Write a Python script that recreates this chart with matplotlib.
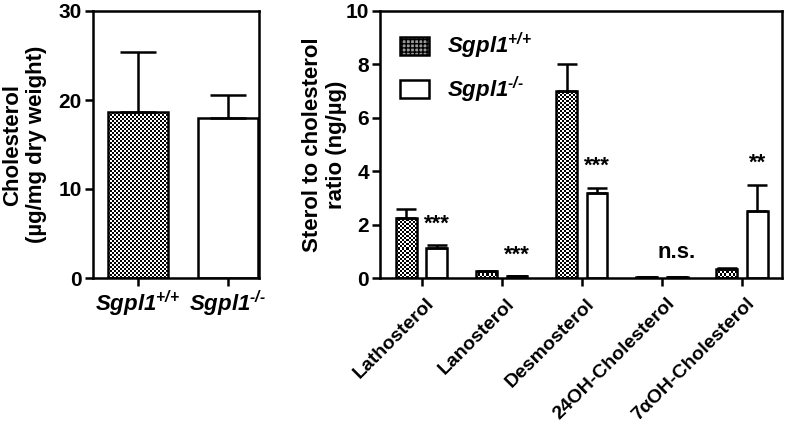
import numpy as np
import matplotlib
matplotlib.use("Agg")
import matplotlib.pyplot as plt
import matplotlib.transforms as mtransforms
from matplotlib.patches import Patch

plt.rcParams["font.family"] = ["Liberation Sans", "DejaVu Sans"]
plt.rcParams["font.weight"] = "bold"
plt.rcParams["mathtext.fontset"] = "custom"
plt.rcParams["mathtext.it"] = "Liberation Sans:bold:italic"
plt.rcParams["mathtext.rm"] = "Liberation Sans:bold:italic"
plt.rcParams["mathtext.bf"] = "Liberation Sans:bold:italic"
plt.rcParams["mathtext.default"] = "it"
plt.rcParams["hatch.linewidth"] = 1.0

# left panel data
chol_groups = ["$Sgpl1^{\\text{+/+}}$", "$Sgpl1^{\\text{-/-}}$"]
chol_mean = [18.6, 18.0]
chol_err = [6.8, 2.6]

# right panel data
sterols = ["Lathosterol", "Lanosterol", "Desmosterol", "24OH-Cholesterol", "7αOH-Cholesterol"]
wt_mean = [2.25, 0.25, 7.02, 0.04, 0.33]
wt_err = [0.33, 0.03, 0.98, 0.01, 0.05]
ko_mean = [1.12, 0.07, 3.20, 0.04, 2.52]
ko_err = [0.12, 0.02, 0.17, 0.01, 0.96]
sig = ["***", "***", "***", "n.s.", "**"]
sig_y = [2.0, 0.85, 4.2, 0.95, 4.3]


def checker_fill(ax, bars, cell=2):
    # fine black/white checkerboard inside each bar (GraphPad style fill)
    xl, yl = ax.get_xlim(), ax.get_ylim()
    for p in bars:
        x0, y0, w, h = p.get_x(), p.get_y(), p.get_width(), p.get_height()
        (px0, py0), (px1, py1) = ax.transData.transform([(x0, y0), (x0 + w, y0 + h)])
        nx = max(1, int(round((px1 - px0) / cell)))
        ny = max(1, int(round((py1 - py0) / cell)))
        arr = np.add.outer(np.arange(ny), np.arange(nx)) % 2
        im = ax.imshow(arr, cmap="gray", vmin=0, vmax=1, extent=[x0, x0 + w, y0, y0 + h],
                       interpolation="nearest", aspect="auto", zorder=0.5)
        im.set_clip_path(p)
    ax.set_xlim(xl)
    ax.set_ylim(yl)


fig = plt.figure(figsize=(7.87, 4.30), dpi=100)
ax1 = fig.add_axes([93 / 787, 1 - 278 / 430, (259 - 93) / 787, 267 / 430])
ax2 = fig.add_axes([380 / 787, 1 - 278 / 430, (782 - 380) / 787, 267 / 430])

lw = 1.8
for ax in (ax1, ax2):
    for s in ax.spines.values():
        s.set_linewidth(lw)
    ax.tick_params(width=lw, length=6, direction="out", labelsize=15, pad=2)

# left panel
x1 = np.arange(len(chol_mean))
ax1.set_xlim(-0.5, 1.35)
ax1.set_ylim(0, 30)
b_wt1 = ax1.bar(x1[0], chol_mean[0], 0.667, facecolor="none", edgecolor="black", linewidth=lw)
ax1.bar(x1[1], chol_mean[1], 0.667, color="white", edgecolor="black", linewidth=lw)
ax1.errorbar(x1, chol_mean, yerr=[np.zeros(2), chol_err], fmt="none", ecolor="black",
             elinewidth=lw, capsize=13, capthick=lw)
ax1.set_yticks([0, 10, 20, 30])
ax1.set_xticks(x1)
ax1.set_xticklabels(chol_groups, fontsize=16)
ax1.set_ylabel("Cholesterol\n(µg/mg dry weight)", fontsize=16, fontweight="bold", labelpad=8)
checker_fill(ax1, b_wt1)

# right panel
x2 = np.arange(len(sterols))
off = 0.19
w = 0.26
ax2.set_xlim(-0.52, 4.5)
ax2.set_ylim(0, 10)
b_wt2 = ax2.bar(x2 - off, wt_mean, w, facecolor="none", edgecolor="black", linewidth=lw)
ax2.bar(x2 + off, ko_mean, w, color="white", edgecolor="black", linewidth=lw)
ax2.errorbar(x2 - off, wt_mean, yerr=[np.zeros(5), wt_err], fmt="none", ecolor="black",
             elinewidth=lw, capsize=7, capthick=lw)
ax2.errorbar(x2 + off, ko_mean, yerr=[np.zeros(5), ko_err], fmt="none", ecolor="black",
             elinewidth=lw, capsize=7, capthick=lw)
for xi, s, yi in zip(x2, sig, sig_y):
    ax2.text(xi + off, yi, s, ha="center", va="center", fontsize=16, fontweight="bold")
ax2.set_yticks([0, 2, 4, 6, 8, 10])
ax2.set_xticks(x2)
ax2.set_xticklabels(sterols, rotation=45, ha="right", rotation_mode="anchor", fontsize=14)
shift = mtransforms.ScaledTranslation(4 / 100, -6 / 100, fig.dpi_scale_trans)
for lab in ax2.get_xticklabels():
    lab.set_transform(lab.get_transform() + shift)
ax2.set_ylabel("Sterol to cholesterol\nratio (ng/µg)", fontsize=16, fontweight="bold", labelpad=-1)
checker_fill(ax2, b_wt2)

handles = [Patch(facecolor="#9a9a9a", edgecolor="black", hatch="++++", linewidth=lw),
           Patch(facecolor="white", edgecolor="black", linewidth=lw)]
ax2.legend(handles, chol_groups, loc="upper left", frameon=False, fontsize=16,
           handlelength=1.3, handleheight=0.9, labelspacing=0.6, handletextpad=0.8,
           borderaxespad=0.5)

fig.savefig("out.png", dpi=100)
